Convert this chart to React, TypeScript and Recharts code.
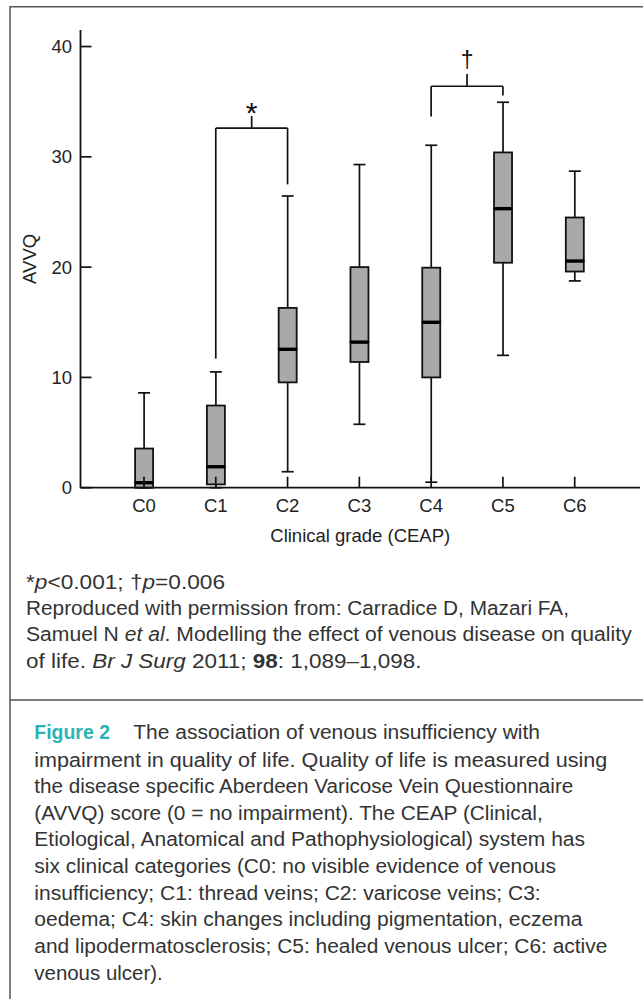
import React from "react";
import { ComposedChart, Bar, XAxis, YAxis, ReferenceLine } from "recharts";

const categories = ["C0", "C1", "C2", "C3", "C4", "C5", "C6"];
const whiskerLow = [0, 0, 1.45, 5.75, 0.5, 12.0, 18.75];
const quartile1 = [0, 0.3, 9.55, 11.4, 10.0, 20.4, 19.6];
const medians = [0.45, 1.9, 12.55, 13.2, 15.0, 25.3, 20.55];
const quartile3 = [3.55, 7.45, 16.3, 20.0, 19.95, 30.4, 24.5];
const whiskerHigh = [8.6, 10.5, 26.45, 29.3, 31.05, 34.95, 28.7];
const yTicks = [0, 10, 20, 30, 40];

// significance brackets (values in AVVQ units)
const brackets = [
  { from: "C1", to: "C2", leftEnd: 11.7, rightEnd: 27.5, top: 32.6, markTop: 33.7, mark: "*" },
  { from: "C4", to: "C5", leftEnd: 33.65, rightEnd: 35.55, top: 36.4, markTop: 37.5, mark: "\u2020" },
];

type Seg = { t: string; i?: boolean; b?: boolean };

const noteLines: Seg[][] = [
  [{ t: "*" }, { t: "p", i: true }, { t: "<0.001; \u2020" }, { t: "p", i: true }, { t: "=0.006" }],
  [{ t: "Reproduced with permission from: Carradice D, Mazari FA," }],
  [{ t: "Samuel N " }, { t: "et al", i: true }, { t: ". Modelling the effect of venous disease on quality" }],
  [{ t: "of life. " }, { t: "Br J Surg", i: true }, { t: " 2011; " }, { t: "98", b: true }, { t: ": 1,089\u20131,098." }],
];

const figureLabel = "Figure 2";
const captionLines = [
  "The association of venous insufficiency with",
  "impairment in quality of life. Quality of life is measured using",
  "the disease specific Aberdeen Varicose Vein Questionnaire",
  "(AVVQ) score (0 = no impairment). The CEAP (Clinical,",
  "Etiological, Anatomical and Pathophysiological) system has",
  "six clinical categories (C0: no visible evidence of venous",
  "insufficiency; C1: thread veins; C2: varicose veins; C3:",
  "oedema; C4: skin changes including pigmentation, eczema",
  "and lipodermatosclerosis; C5: healed venous ulcer; C6: active",
  "venous ulcer).",
];

// text layout
const noteBaselines = [588.5, 615, 641, 667.5];
const noteRight = [225, 569, 631.7, 421.5];
const captionBaselines = [738.7, 767, 793, 819.7, 846.3, 873, 899.7, 926.3, 953, 979.7];
const captionRight = [540, 607.3, 573.3, 542.7, 585, 556, 540.7, 582.3, 607.3, 162.7];

const data = categories.map((name, i) => ({
  name,
  base: whiskerLow[i],
  lowW: quartile1[i] - whiskerLow[i],
  boxLo: medians[i] - quartile1[i],
  boxHi: quartile3[i] - medians[i],
  highW: whiskerHigh[i] - quartile3[i],
}));

const INK = "#111";
const BOX = "#a9a9a9";
const FONT = "'Liberation Sans', Arial, sans-serif";
const AXIS_FONT = 18.5;

const LowerWhisker = (p: any) => {
  const cx = p.x + p.width / 2;
  const yb = p.y + p.height;
  return (
    <g>
      <line x1={cx} x2={cx} y1={p.y} y2={yb} stroke={INK} strokeWidth={1.7} />
      <line x1={cx - 6} x2={cx + 6} y1={yb} y2={yb} stroke={INK} strokeWidth={1.7} />
    </g>
  );
};

const UpperWhisker = (p: any) => {
  const cx = p.x + p.width / 2;
  return (
    <g>
      <line x1={cx} x2={cx} y1={p.y} y2={p.y + p.height} stroke={INK} strokeWidth={1.7} />
      <line x1={cx - 6} x2={cx + 6} y1={p.y} y2={p.y} stroke={INK} strokeWidth={1.7} />
    </g>
  );
};

const BoxLower = (p: any) => (
  <rect x={p.x} y={p.y} width={p.width} height={p.height} fill={BOX} stroke={INK} strokeWidth={1.8} />
);

const BoxUpper = (p: any) => (
  <g>
    <rect x={p.x} y={p.y} width={p.width} height={p.height} fill={BOX} stroke={INK} strokeWidth={1.8} />
    <line x1={p.x} x2={p.x + p.width} y1={p.y + p.height} y2={p.y + p.height} stroke="#000" strokeWidth={3.4} />
  </g>
);

const lineProps = { stroke: INK, strokeWidth: 1.7, ifOverflow: "visible" as const };

export default function App() {
  return (
    <div style={{ position: "absolute", left: 0, top: 0, width: 643, height: 999, background: "#fff" }}>
      <svg width={643} height={999} style={{ position: "absolute", left: 0, top: 0 }}>
        <line x1={10} x2={643} y1={6.7} y2={6.7} stroke="#555" strokeWidth={1.5} />
        <line x1={10} x2={10} y1={6} y2={999} stroke="#555" strokeWidth={1.5} />
        <line x1={10} x2={643} y1={700} y2={700} stroke="#555" strokeWidth={1.5} />
        {noteLines.map((segs, i) => (
          <text
            key={`n${i}`}
            x={26}
            y={noteBaselines[i]}
            textLength={noteRight[i] - 26}
            lengthAdjust="spacingAndGlyphs"
            fontFamily={FONT}
            fontSize={20}
            fill="#333"
            style={{ whiteSpace: "pre" }}
          >
            {segs.map((s, j) => (
              <tspan key={j} fontStyle={s.i ? "italic" : undefined} fontWeight={s.b ? "bold" : undefined}>
                {s.t}
              </tspan>
            ))}
          </text>
        ))}
        <text
          x={34.3}
          y={captionBaselines[0]}
          textLength={110 - 34.3}
          lengthAdjust="spacingAndGlyphs"
          fontFamily={FONT}
          fontSize={20}
          fontWeight="bold"
          fill="#2bb3b3"
        >
          {figureLabel}
        </text>
        {captionLines.map((line, i) => {
          const x0 = i === 0 ? 133.3 : 34.3;
          return (
            <text
              key={`c${i}`}
              x={x0}
              y={captionBaselines[i]}
              textLength={captionRight[i] - x0}
              lengthAdjust="spacingAndGlyphs"
              fontFamily={FONT}
              fontSize={20}
              fill="#333"
            >
              {line}
            </text>
          );
        })}
      </svg>
      <ComposedChart
        width={643}
        height={560}
        data={data}
        margin={{ top: 30, right: 3, bottom: 12.3, left: 0 }}
        style={{ position: "absolute", left: 0, top: 0 }}
      >
        <XAxis
          dataKey="name"
          type="category"
          height={60}
          padding={{ left: 27.6, right: 29.4 }}
          axisLine={{ stroke: INK, strokeWidth: 1.8 }}
          tickLine={{ stroke: INK, strokeWidth: 1.7 }}
          tickSize={-11}
          tickMargin={21.7}
          tick={{ fontSize: AXIS_FONT, fill: "#222", fontFamily: FONT }}
          label={{ value: "Clinical grade (CEAP)", position: "insideBottom", offset: 6.1, fontSize: AXIS_FONT, fill: "#222", fontFamily: FONT }}
        />
        <YAxis
          type="number"
          domain={[0, 41.5]}
          ticks={yTicks}
          width={80.5}
          axisLine={{ stroke: INK, strokeWidth: 1.8 }}
          tickLine={{ stroke: INK, strokeWidth: 1.7 }}
          tickSize={-11}
          tickMargin={19.5}
          tick={{ fontSize: AXIS_FONT, fill: "#222", fontFamily: FONT }}
          label={{ value: "AVVQ", angle: -90, position: "insideLeft", offset: 29, fontSize: AXIS_FONT, fill: "#222", fontFamily: FONT, style: { textAnchor: "middle" } }}
        />
        <Bar dataKey="base" stackId="b" barSize={18} fill="none" isAnimationActive={false} />
        <Bar dataKey="lowW" stackId="b" barSize={18} shape={LowerWhisker} isAnimationActive={false} />
        <Bar dataKey="boxLo" stackId="b" barSize={18} shape={BoxLower} isAnimationActive={false} />
        <Bar dataKey="boxHi" stackId="b" barSize={18} shape={BoxUpper} isAnimationActive={false} />
        <Bar dataKey="highW" stackId="b" barSize={18} shape={UpperWhisker} isAnimationActive={false} />
        {brackets.map((b) => (
          <ReferenceLine key={`${b.from}l`} {...lineProps} segment={[{ x: b.from, y: b.leftEnd }, { x: b.from, y: b.top }]} />
        ))}
        {brackets.map((b) => (
          <ReferenceLine key={`${b.from}h`} {...lineProps} segment={[{ x: b.from, y: b.top }, { x: b.to, y: b.top }]} />
        ))}
        {brackets.map((b) => (
          <ReferenceLine key={`${b.from}r`} {...lineProps} segment={[{ x: b.to, y: b.top }, { x: b.to, y: b.rightEnd }]} />
        ))}
        {brackets.map((b) => (
          <ReferenceLine
            key={`${b.from}m`}
            {...lineProps}
            position="end"
            segment={[{ x: b.from, y: b.top }, { x: b.from, y: b.markTop }]}
            label={{ value: b.mark, position: "top", offset: b.mark === "*" ? -7 : 6, fontSize: b.mark === "*" ? 30 : 23, fill: INK, fontFamily: FONT }}
          />
        ))}
      </ComposedChart>
    </div>
  );
}
